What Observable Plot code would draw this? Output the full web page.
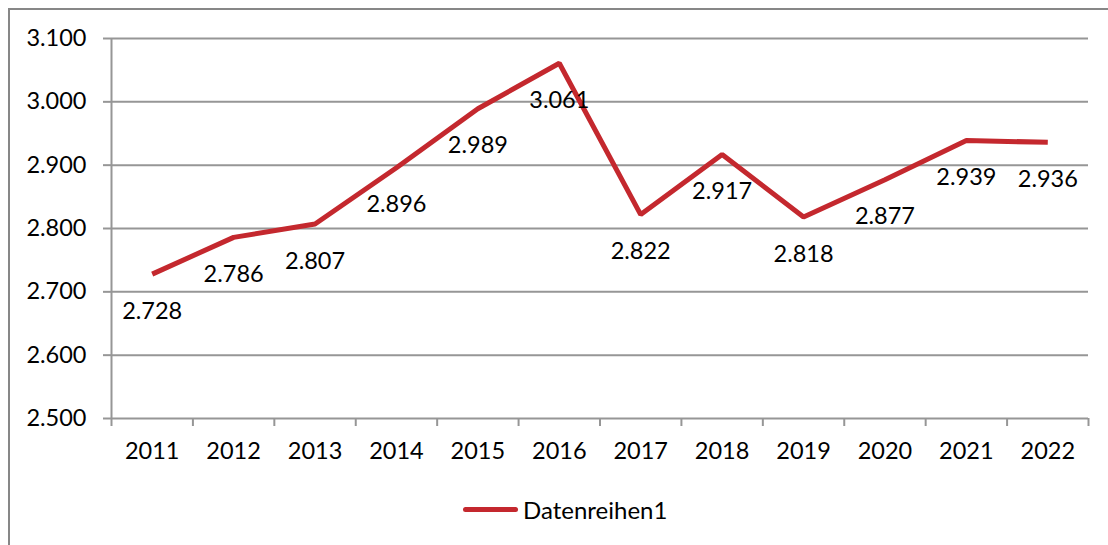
<!DOCTYPE html>
<html>
<head>
<meta charset="utf-8">
<script src="https://cdn.jsdelivr.net/npm/d3@7"></script>
<script src="https://cdn.jsdelivr.net/npm/@observablehq/plot@0.6"></script>
<style>
  html, body { margin: 0; padding: 0; background: #fff; }
  #wrap { position: relative; width: 1108px; height: 545px; overflow: hidden; font-family: Lato, "Liberation Sans", sans-serif; }
  #frame { position: absolute; left: 8px; top: 8px; width: 1120px; height: 560px; border: 2px solid #878787; box-sizing: border-box; }
  #chart { position: absolute; left: 0; top: 0; }
  #legend { position: absolute; left: 463px; top: 494px; height: 30px; display: flex; align-items: center; font-size: 24px; color: #000; }
  #legend .sw { width: 55px; height: 5px; border-radius: 3px; background: #C4282E; margin-right: 5px; }
</style>
</head>
<body>
<div id="wrap">
  <div id="frame"></div>
  <div id="chart"></div>
  <div id="legend"><span class="sw"></span><span>Datenreihen1</span></div>
</div>
<script>
const years = [2011, 2012, 2013, 2014, 2015, 2016, 2017, 2018, 2019, 2020, 2021, 2022];
const values = [2728, 2786, 2807, 2896, 2989, 3061, 2822, 2917, 2818, 2877, 2939, 2936];
const yTicks = [2500, 2600, 2700, 2800, 2900, 3000, 3100];
const seriesName = "Datenreihen1";

const de = d3.formatLocale({decimal: ",", thousands: ".", grouping: [3], currency: ["", " €"]});
const fmt = de.format(",d");

const data = years.map((y, i) => ({year: y, value: values[i]}));
const boundaries = years.map(y => y - 0.5).concat([years[years.length - 1] + 0.5]);

const red = "#C4282E";
const grid = "#969696";
const fs = 23.5;

const chart = Plot.plot({
  width: 1108,
  height: 480,
  marginLeft: 111,
  marginRight: 20,
  marginTop: 38,
  marginBottom: 62,
  style: {fontFamily: "Lato, 'Liberation Sans', sans-serif", fontSize: fs + "px", color: "#000", background: "transparent"},
  x: {domain: [years[0] - 0.5, years[years.length - 1] + 0.5], axis: null},
  y: {domain: [yTicks[0], yTicks[yTicks.length - 1]], axis: null},
  marks: [
    Plot.ruleY(yTicks, {stroke: grid, strokeWidth: 2}),
    Plot.ruleX([years[0] - 0.5], {stroke: grid, strokeWidth: 2}),
    Plot.axisY({ticks: yTicks, tickFormat: fmt, tickSize: 8, tickPadding: 17, stroke: grid, strokeWidth: 2, fontSize: fs, fill: "#000", label: null}),
    Plot.axisX({ticks: boundaries, tickFormat: () => "", tickSize: 8, stroke: grid, strokeWidth: 2, label: null}),
    Plot.axisX({ticks: years, tickFormat: d => String(d), tickSize: 0, tickPadding: 24, fontSize: fs, fill: "#000", label: null}),
    Plot.line(data, {x: "year", y: "value", stroke: red, strokeWidth: 5, strokeLinejoin: "miter", strokeLinecap: "butt"}),
    Plot.text(data, {x: "year", y: "value", text: d => fmt(d.value), dy: 37, fontSize: fs, fill: "#000"})
  ]
});
document.getElementById("chart").appendChild(chart);
</script>
</body>
</html>
